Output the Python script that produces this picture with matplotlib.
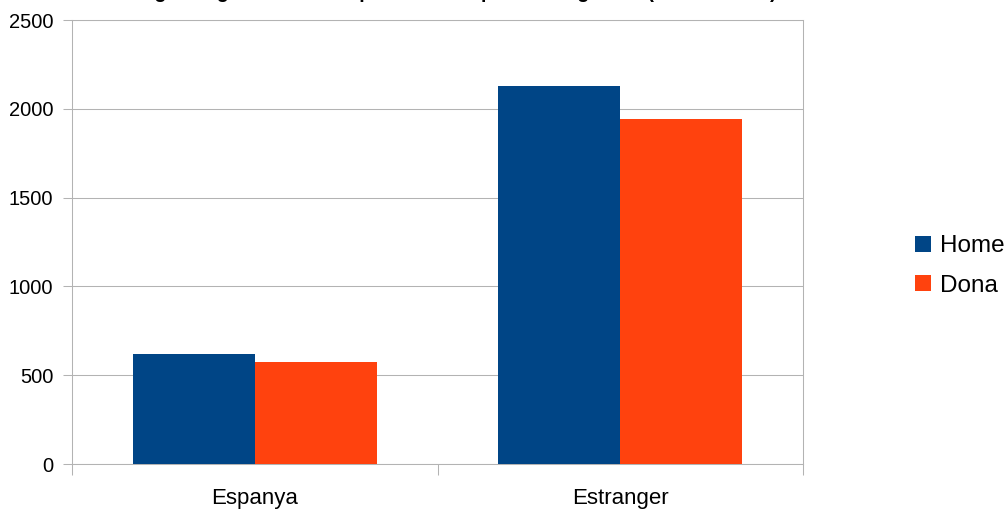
import matplotlib
matplotlib.use("Agg")
import matplotlib.pyplot as plt
from matplotlib.patches import Patch
import numpy as np

categories = ["Espanya", "Estranger"]
home_values = [620, 2128]
dona_values = [575, 1942]
series_names = ["Home", "Dona"]
y_ticks = [0, 500, 1000, 1500, 2000, 2500]
title = "Origen segons el lloc de procedència per sexe i gènere (Idescat 2011)"

BLUE = "#004586"
ORANGE = "#ff420e"
GRID = "#b3b3b3"
SANS = ["Liberation Sans", "DejaVu Sans"]

W, H = 1008, 512
fig = plt.figure(figsize=(W / 100, H / 100), dpi=100)
ax = fig.add_axes([72 / W, 1 - 464 / H, (803 - 72) / W, (464 - 20) / H])

x = np.arange(len(categories))
bw = 1 / 3
ax.bar(x - bw / 2, home_values, width=bw, color=BLUE, zorder=3, linewidth=0)
ax.bar(x + bw / 2, dona_values, width=bw, color=ORANGE, zorder=3, linewidth=0)

ax.set_xlim(-0.5, len(categories) - 0.5)
ax.set_ylim(0, 2500)
ax.set_yticks(y_ticks)
ax.set_yticklabels([str(v) for v in y_ticks], family=SANS, fontsize=14.5)
ax.set_xticks(x)
ax.set_xticklabels(categories, family=SANS, fontsize=16)
ax.set_xticks(np.arange(-0.5, len(categories), 1.0), minor=True)
ax.tick_params(axis="x", which="major", length=0, pad=17)
ax.tick_params(axis="x", which="minor", length=8, width=0.75, color=GRID, direction="out")
ax.tick_params(axis="y", length=6.5, width=0.75, color=GRID, pad=7)
ax.grid(axis="y", color=GRID, linewidth=0.75, zorder=0)
for s in ax.spines.values():
    s.set_color(GRID)
    s.set_linewidth(0.75)

fig.text(451 / W, 1 + 2 / H, title, ha="center", va="baseline",
         family=SANS, fontsize=14.2, fontweight="bold")

handles = [Patch(facecolor=BLUE, edgecolor="none"), Patch(facecolor=ORANGE, edgecolor="none")]
fig.legend(handles, series_names, loc="center left", bbox_to_anchor=(915 / W, 1 - 266 / H),
           frameon=False, prop={"family": SANS, "size": 17.5}, handlelength=0.66,
           handleheight=0.66, handletextpad=0.35, labelspacing=0.72, borderpad=0,
           borderaxespad=0)

fig.savefig("out.png", dpi=100)
